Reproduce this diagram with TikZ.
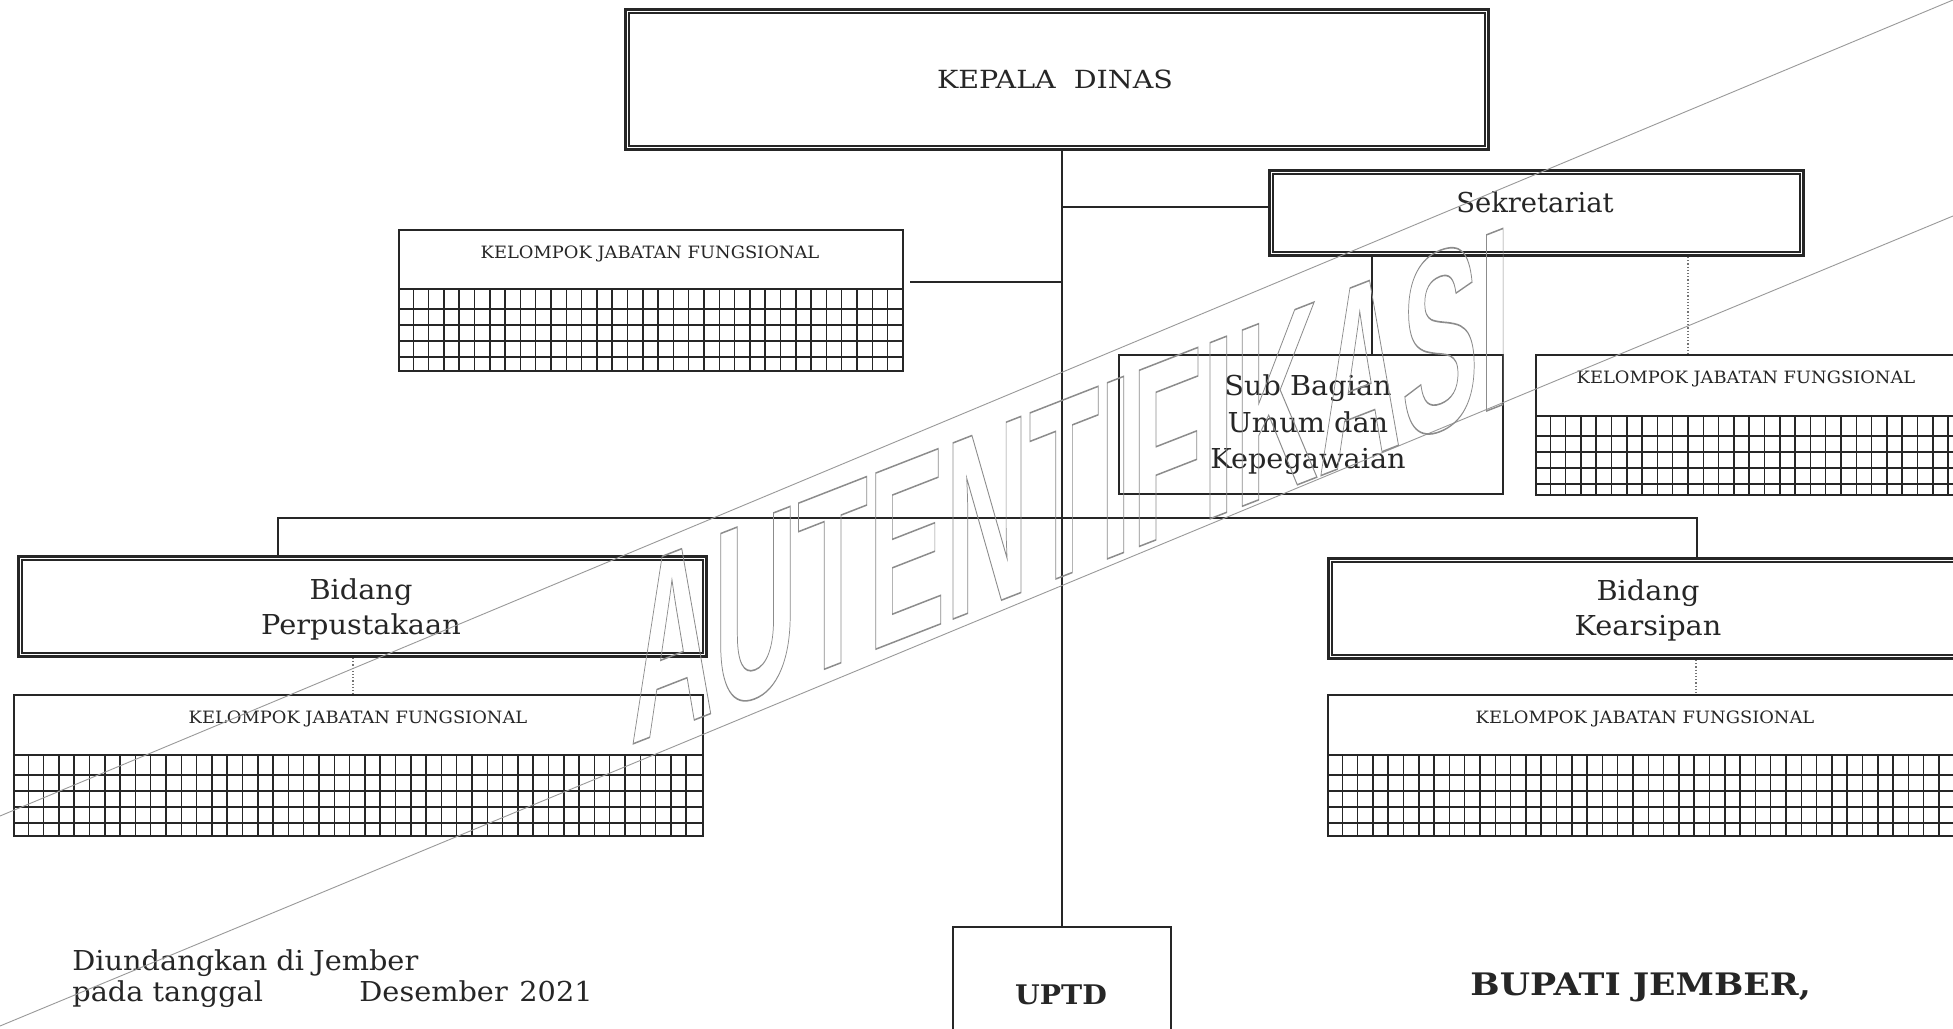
\documentclass[tikz,border=0pt]{standalone}
\usepackage{fontspec}
\setmainfont{DejaVu Serif}
\newfontfamily\wmfont{Liberation Sans}
\newfontfamily\serifA[FakeStretch=1.14]{DejaVu Serif}
\newfontfamily\serifB[FakeStretch=1.12]{DejaVu Serif}
\newfontfamily\serifC[FakeStretch=1.05]{DejaVu Serif}
\newcommand\mkbox[6]{\node[#1, minimum width={(#5-#3)*0.5pt}, minimum height={(#6-#4)*0.5pt}] (#2) at (#3,#4) {};}
\newcommand\innerrect[1]{\draw[line width=0.8pt, black!85] ([shift={(5,5)}]#1.north west) rectangle ([shift={(-5,-5)}]#1.south east);}
% grid: x1, x2, ydiv, ybot, ncols
\newcommand\kjfgrid[5]{%
  \draw[gridline] (#1,#3) -- (#2,#3);
  \foreach \dy in {20,36,52,68} {\draw[gridline] (#1,{#3+\dy}) -- (#2,{#3+\dy});}
  \foreach \ii in {1,...,#5} {\draw[gridline] ({#1+15.3*\ii},#3) -- ({#1+15.3*\ii},#4);}
}
\begin{document}
\begin{tikzpicture}[x=0.5pt,y=-0.5pt,
  line/.style={line width=0.8pt, draw=black!85},
  dotline/.style={line width=0.6pt, draw=black!55, densely dotted},
  gridline/.style={line width=0.75pt, draw=black!85},
  outerbox/.style={draw=black!85, line width=1.5pt, inner sep=0pt, anchor=north west},
  plainbox/.style={draw=black!85, line width=0.9pt, inner sep=0pt, anchor=north west},
  lbl/.style={anchor=base, inner sep=0pt, text=black!85},
  big/.style={lbl, font=\serifC\fontsize{13.7}{16}\selectfont},
  small/.style={lbl, font=\serifC\fontsize{8.5}{10}\selectfont},
  wmline/.style={line width=0.45pt, draw=black!40},
  wmtext/.style={anchor=base west, inner sep=0pt, transform shape, yslant=0.39, xscale=0.452,
    font=\wmfont\bfseries\fontsize{128}{130}\selectfont, text=black!45},
]
\useasboundingbox (0,0) rectangle (1953,1028);
\fill[white] (0,0) rectangle (1953,1028);
\clip (0,0) rectangle (1953,1028);

% ---------- boxes ----------
\mkbox{outerbox}{kd}{624}{8}{1487}{148}
\innerrect{kd}
\mkbox{outerbox}{sk}{1268}{169}{1802}{254}
\innerrect{sk}
\mkbox{plainbox}{sb}{1118}{354}{1502}{493}
\mkbox{plainbox}{kj1}{398}{229}{902}{370}
\mkbox{plainbox}{kj2}{1535}{354}{1958}{494}
\mkbox{outerbox}{bp}{17}{555}{705}{655}
\innerrect{bp}
\mkbox{plainbox}{kj3}{13}{694}{702}{835}
\mkbox{outerbox}{bk}{1327}{557}{1972}{657}
\innerrect{bk}
\mkbox{plainbox}{kj4}{1327}{694}{1963}{835}
\mkbox{plainbox}{up}{952}{926}{1170}{1045}

% ---------- grids ----------
\kjfgrid{398}{902}{289}{370}{32}
\kjfgrid{1535}{1958}{416}{494}{28}
\kjfgrid{13}{702}{755}{835}{44}
\kjfgrid{1327}{1963}{755}{835}{41}

% ---------- connectors ----------
\coordinate (skc) at (1268,207);
\coordinate (kj1c) at (910,282);
\coordinate (sbx) at (1372,0);
\coordinate (kj2x) at (1688,0);
\coordinate (barl) at (278,518);
\coordinate (barr) at (1697,518);
\coordinate (d3) at (353,0);
\coordinate (d4) at (1696,0);
\draw[line] (kd.south -| up.north) -- (up.north);
\draw[line] (skc) -- (skc -| up.north);
\draw[line] (kj1c) -- (kj1c -| up.north);
\draw[line] (sk.south -| sbx) -- (sb.north -| sbx);
\draw[dotline] (sk.south -| kj2x) -- (kj2.north -| kj2x);
\draw[line] (bp.north -| barl) -- (barl) -- (barr) -- (bk.north -| barr);
\draw[dotline] (bp.south -| d3) -- (kj3.north -| d3);
\draw[dotline] (bk.south -| d4) -- (kj4.north -| d4);

% ---------- labels ----------
\node[lbl, font=\serifA\fontsize{12.5}{14}\selectfont] (kdt) at (1055,88) {KEPALA\ \ DINAS};
\node[lbl, font=\fontsize{13.7}{16}\selectfont] (skt) at (1535,212) {Sekretariat};
\node[big] (sbt1) at (1308,395) {Sub Bagian};
\node[big] (sbt2) at (1308,432) {Umum dan};
\node[big] (sbt3) at (1308,468) {Kepegawaian};
\node[small] (kj1t) at (650,258) {KELOMPOK JABATAN FUNGSIONAL};
\node[small] (kj2t) at (1746,383) {KELOMPOK JABATAN FUNGSIONAL};
\node[small] (kj3t) at (358,723) {KELOMPOK JABATAN FUNGSIONAL};
\node[small] (kj4t) at (1645,723) {KELOMPOK JABATAN FUNGSIONAL};
\node[big] (bpt1) at (361,599) {Bidang};
\node[big] (bpt2) at (361,634) {Perpustakaan};
\node[big] (bkt1) at (1648,600) {Bidang};
\node[big] (bkt2) at (1648,635) {Kearsipan};
\node[lbl, font=\serifC\bfseries\fontsize{13.5}{15}\selectfont] (upt) at (1061,1004) {UPTD};
\node[lbl, anchor=base west, font=\serifB\bfseries\fontsize{15.5}{17}\selectfont] (bup) at (1470,995) {BUPATI JEMBER,};
\node[big, anchor=base west] (dj) at (72,970) {Diundangkan di Jember};
\node[big, anchor=base west] (pt) at (72,1001) {pada tanggal};
\node[big, anchor=base west] (ds) at (359,1001) {Desember};
\node[big, anchor=base west] (yr) at (519,1001) {2021};

% ---------- watermark ----------
\draw[wmline] (0,816) -- (1953,0);
\draw[wmline] (0,1026) -- (1953,216);
\begin{scope}[shift={(630,745)}]
\node[wmtext] (wm) at (0,0) {\special{pdf:code 1 Tr 0.8 w}AUTENTIFIKASI\special{pdf:code 0 Tr}};
\end{scope}
\end{tikzpicture}
\end{document}
